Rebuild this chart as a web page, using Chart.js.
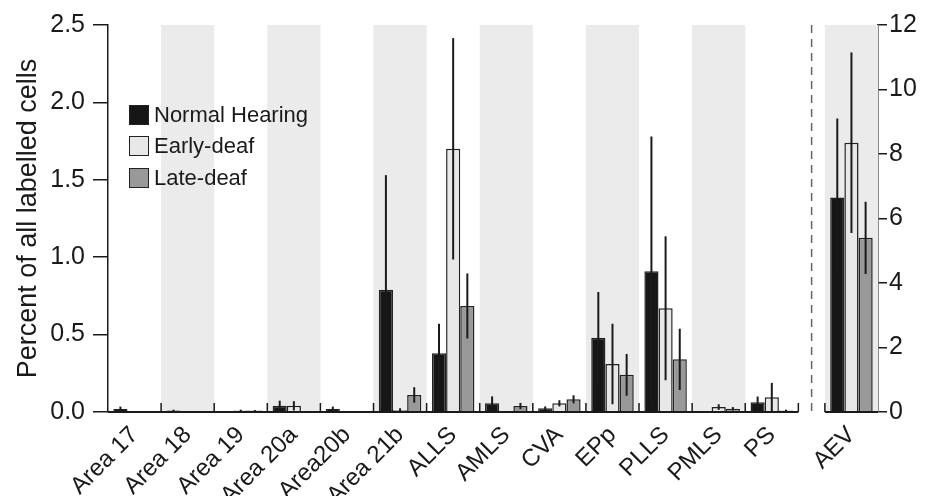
<!DOCTYPE html>
<html>
<head>
<meta charset="utf-8">
<title>Percent of all labelled cells</title>
<script src="https://cdn.jsdelivr.net/npm/chart.js@4.4.1/dist/chart.umd.min.js"></script>
<style>
  html, body { margin: 0; padding: 0; background: #fff; }
  #wrap { position: relative; width: 931px; height: 496px; }
  #legend {
    position: absolute; left: 129px; top: 99px;
    font-family: 'Liberation Sans', Arial, sans-serif; font-size: 22px; color: #1a1a1a;
  }
  #legend .row { display: flex; align-items: center; height: 31.5px; }
  #legend .box { width: 20px; height: 20px; box-sizing: border-box; border: 1.5px solid #222; margin-right: 5px; }
</style>
</head>
<body>
<div id="wrap">
  <canvas id="barChart" width="931" height="496"></canvas>
  <div id="legend"></div>
</div>
<script>
// categories on the left axis (percent) and the separate AEV panel (right axis)
const categories = ['Area 17', 'Area 18', 'Area 19', 'Area 20a', 'Area20b', 'Area 21b', 'ALLS', 'AMLS', 'CVA', 'EPp', 'PLLS', 'PMLS', 'PS'];
const aevCategory = 'AEV';
const shadedCategories = ['Area 18', 'Area 20a', 'Area 21b', 'AMLS', 'EPp', 'PMLS', 'AEV'];

// mean values (left axis)
const normalHearing = [0.02, 0.01, 0.005, 0.04, 0.02, 0.79, 0.38, 0.056, 0.024, 0.48, 0.91, 0, 0.063];
const earlyDeaf     = [0, 0, 0.01, 0.04, 0, 0.012, 1.70, 0.005, 0.056, 0.31, 0.67, 0.032, 0.095];
const lateDeaf      = [0, 0, 0.01, 0, 0, 0.11, 0.685, 0.039, 0.082, 0.24, 0.34, 0.021, 0.01];

// error bar half-lengths
const normalErr = [0.015, 0.005, 0, 0.033, 0.015, 0.74, 0.19, 0.045, 0.012, 0.295, 0.87, 0, 0.037];
const earlyErr  = [0, 0, 0.005, 0.03, 0, 0.012, 0.715, 0, 0.02, 0.26, 0.465, 0.018, 0.093];
const lateErr   = [0, 0, 0.003, 0, 0, 0.05, 0.21, 0.02, 0.026, 0.135, 0.198, 0.011, 0.005];

// AEV (right axis)
const aevValues = [6.65, 8.35, 5.4];
const aevErr    = [2.45, 2.8, 1.12];

// tick labels
const leftTicks = [0, 0.5, 1.0, 1.5, 2.0, 2.5];
const rightTicks = [0, 2, 4, 6, 8, 10, 12];

const seriesNames = ['Normal Hearing', 'Early-deaf', 'Late-deaf'];
const fills = ['#161616', '#e8e8e8', '#999999'];

// x positions: one unit per category, AEV set apart
const aevPos = categories.length + 0.5;
const tickPositions = categories.map((c, i) => i).concat([aevPos]);
const tickLabels = categories.concat([aevCategory]);

const FONT = "'Liberation Sans', Arial, sans-serif";
Chart.defaults.font.family = FONT;
Chart.defaults.color = '#1a1a1a';

function leftData(arr) { return arr.map((v, i) => ({ x: i, y: v })); }

const leftSeries = [normalHearing, earlyDeaf, lateDeaf];
const leftErrs = [normalErr, earlyErr, lateErr];

const datasets = [];
seriesNames.forEach((name, k) => {
    datasets.push({
        label: name,
        data: leftData(leftSeries[k]),
        errors: leftErrs[k],
        yAxisID: 'y',
        backgroundColor: fills[k],
        borderColor: '#222',
        borderWidth: 1.5
    });
});
seriesNames.forEach((name, k) => {
    datasets.push({
        label: name + ' (AEV)',
        data: [{ x: aevPos, y: aevValues[k] }],
        errors: [aevErr[k]],
        yAxisID: 'y2',
        backgroundColor: fills[k],
        borderColor: '#222',
        borderWidth: 1.5
    });
});

const decorPlugin = {
    id: 'decor',
    beforeDatasetsDraw(chart) {
        const { ctx, chartArea, scales: { x } } = chart;
        ctx.save();
        ctx.fillStyle = '#ebebeb';
        shadedCategories.forEach(name => {
            const p = tickPositions[tickLabels.indexOf(name)];
            const l = x.getPixelForValue(p - 0.5);
            const r = x.getPixelForValue(p + 0.5);
            ctx.fillRect(l, chartArea.top, r - l, chartArea.bottom - chartArea.top);
        });
        ctx.restore();
    },
    afterDatasetsDraw(chart) {
        const { ctx, chartArea, scales: { x, y } } = chart;
        ctx.save();
        // error bars
        ctx.strokeStyle = '#1a1a1a';
        ctx.lineWidth = 2;
        chart.data.datasets.forEach((ds, i) => {
            const meta = chart.getDatasetMeta(i);
            const vs = chart.scales[meta.yAxisID];
            meta.data.forEach((bar, j) => {
                const e = ds.errors[j];
                if (!e) return;
                const v = ds.data[j].y;
                ctx.beginPath();
                ctx.moveTo(bar.x, vs.getPixelForValue(v + e));
                ctx.lineTo(bar.x, vs.getPixelForValue(Math.max(0, v - e)));
                ctx.stroke();
            });
        });
        // baseline segments
        const y0 = y.getPixelForValue(0);
        ctx.lineWidth = 2;
        ctx.beginPath();
        ctx.moveTo(x.getPixelForValue(-0.5), y0);
        ctx.lineTo(x.getPixelForValue(categories.length - 0.5), y0);
        ctx.moveTo(x.getPixelForValue(aevPos - 0.5), y0);
        ctx.lineTo(x.getPixelForValue(aevPos + 0.5), y0);
        ctx.stroke();
        // small separators between categories
        ctx.lineWidth = 1.5;
        const seps = categories.map((c, i) => i + 0.5).concat([aevPos - 0.5]);
        ctx.beginPath();
        seps.forEach(s => {
            const px = x.getPixelForValue(s);
            ctx.moveTo(px, y0);
            ctx.lineTo(px, y0 - 9);
        });
        ctx.stroke();
        // dashed divider before AEV
        const dx = x.getPixelForValue((categories.length - 1 + aevPos) / 2);
        ctx.strokeStyle = '#666';
        ctx.setLineDash([8, 6]);
        ctx.beginPath();
        ctx.moveTo(dx, chartArea.top);
        ctx.lineTo(dx, y0);
        ctx.stroke();
        ctx.restore();
    }
};

const ctx = document.getElementById('barChart').getContext('2d');
const barChart = new Chart(ctx, {
    type: 'bar',
    data: { datasets: datasets },
    plugins: [decorPlugin],
    options: {
        responsive: false,
        animation: false,
        skipNull: true,
        categoryPercentage: 0.8,
        barPercentage: 1.0,
        layout: { padding: { top: 25, left: 0, right: 0, bottom: 0 } },
        plugins: {
            legend: { display: false },
            tooltip: { enabled: false }
        },
        scales: {
            x: {
                type: 'linear',
                min: -0.5,
                max: aevPos + 0.5,
                offset: false,
                stacked: false,
                grid: { display: false, drawTicks: false },
                border: { display: false },
                afterBuildTicks: (scale) => {
                    scale.ticks = tickPositions.map(v => ({ value: v }));
                },
                afterFit: (scale) => { scale.height = 84; },
                ticks: {
                    autoSkip: false,
                    minRotation: 45,
                    maxRotation: 45,
                    padding: 9,
                    font: { size: 24 },
                    color: '#1a1a1a',
                    callback: (value) => {
                        const k = tickPositions.indexOf(value);
                        return k >= 0 ? tickLabels[k] : '';
                    }
                }
            },
            y: {
                position: 'left',
                min: 0,
                max: 2.5,
                stacked: false,
                afterBuildTicks: (scale) => {
                    scale.ticks = leftTicks.map(v => ({ value: v }));
                },
                afterFit: (scale) => { scale.width = 108; },
                grid: { drawOnChartArea: false, tickLength: 15, color: '#1a1a1a', lineWidth: 1.5 },
                border: { display: true, color: '#1a1a1a', width: 1.5 },
                ticks: {
                    padding: 8,
                    font: { size: 25 },
                    color: '#1a1a1a',
                    callback: (v) => v.toFixed(1)
                },
                title: {
                    display: true,
                    text: 'Percent of all labelled cells',
                    font: { size: 27 },
                    color: '#1a1a1a',
                    padding: { top: 12, bottom: 0 }
                }
            },
            y2: {
                position: 'right',
                min: 0,
                max: 12,
                stacked: false,
                afterBuildTicks: (scale) => {
                    scale.ticks = rightTicks.map(v => ({ value: v }));
                },
                afterFit: (scale) => { scale.width = 53; },
                grid: { drawOnChartArea: false, tickLength: 9, color: '#1a1a1a', lineWidth: 1.5 },
                border: { display: true, color: '#1a1a1a', width: 1.5 },
                ticks: {
                    padding: 2,
                    font: { size: 25 },
                    color: '#1a1a1a'
                }
            }
        }
    }
});

// legend from the first three datasets
const legendEl = document.getElementById('legend');
seriesNames.forEach((name, k) => {
    const row = document.createElement('div');
    row.className = 'row';
    const box = document.createElement('span');
    box.className = 'box';
    box.style.background = fills[k];
    const label = document.createElement('span');
    label.textContent = name;
    row.appendChild(box);
    row.appendChild(label);
    legendEl.appendChild(row);
});
</script>
</body>
</html>
